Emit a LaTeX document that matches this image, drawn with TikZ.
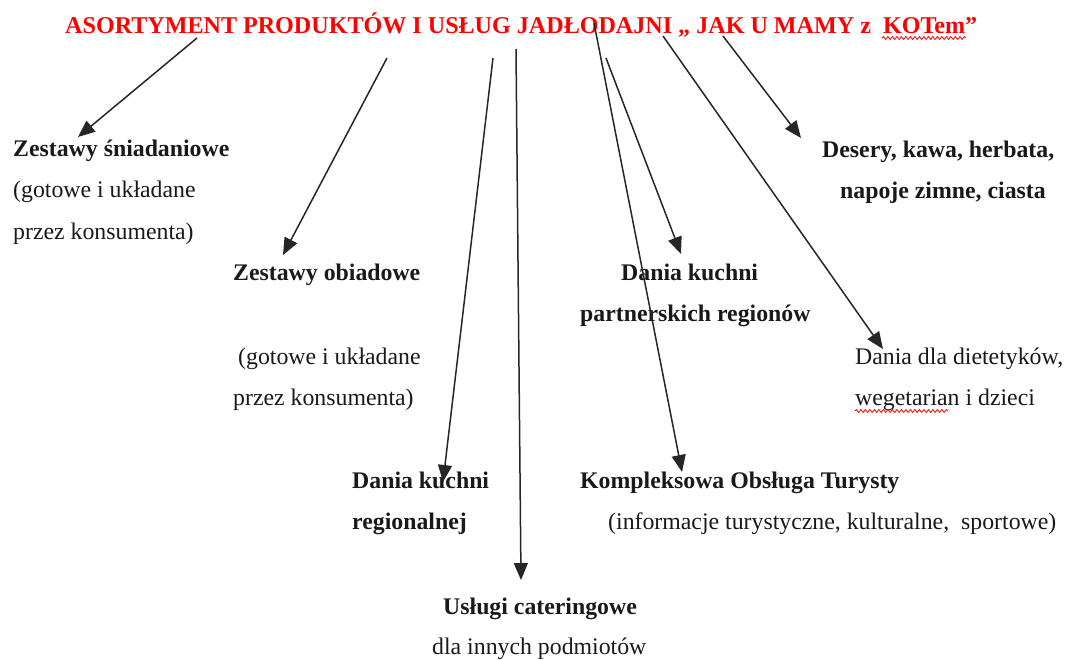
\documentclass[tikz,border=0pt]{standalone}
\usepackage{fontspec}
\setmainfont{Liberation Serif}
\usetikzlibrary{arrows.meta,decorations.pathmorphing}
\tikzset{
  txt/.style={inner sep=0pt, anchor=base west, font=\fontsize{23.8}{28}\selectfont, text=black!90},
  bt/.style={txt, font=\fontsize{23.8}{28}\selectfont\bfseries},
  ttl/.style={inner sep=0pt, anchor=base west, font=\fontsize{24.1}{28}\selectfont\bfseries, text=red},
  arr/.style={line width=1.5pt, draw=black!85, -{Triangle[length=17pt,width=14pt]}},
  wavy/.style={draw=red, line width=0.8pt, decorate, decoration={snake, amplitude=1.5pt, segment length=4.5pt}}
}
\begin{document}
\begin{tikzpicture}[x=1pt,y=-1pt]
\useasboundingbox (0,0) rectangle (1065,659);
% title
\node[ttl] (title) at (65,33) {ASORTYMENT PRODUKTÓW I USŁUG JADŁODAJNI „ JAK U MAMY z\ \ KOTem”};
\draw[wavy] (882,38) -- (966,38);
% texts
\node[bt]  (sn1) at (13,156) {Zestawy śniadaniowe};
\node[txt] (sn2) at (13,197) {(gotowe i układane};
\node[txt] (sn3) at (13,239) {przez konsumenta)};
\node[bt]  (ob1) at (233,280) {Zestawy obiadowe};
\node[txt] (ob2) at (238,364) {(gotowe i układane};
\node[txt] (ob3) at (233,405) {przez konsumenta)};
\node[bt]  (re1) at (352,488) {Dania kuchni};
\node[bt]  (re2) at (352,529) {regionalnej};
\node[bt]  (ca1) at (443,614) {Usługi cateringowe};
\node[txt] (ca2) at (432,654) {dla innych podmiotów};
\node[bt]  (tu1) at (580,488) {Kompleksowa Obsługa Turysty};
\node[txt] (tu2) at (608,529) {(informacje turystyczne, kulturalne,\ \ sportowe)};
\node[bt]  (pa1) at (621,280) {Dania kuchni};
\node[bt]  (pa2) at (580,321) {partnerskich regionów};
\node[txt] (di1) at (855,364) {Dania dla dietetyków,};
\node[txt] (di2) at (855,405) {wegetarian i dzieci};
\draw[wavy] (855,411) -- (948,411);
\node[bt]  (de1) at (822,157) {Desery, kawa, herbata,};
\node[bt]  (de2) at (840,198) {napoje zimne, ciasta};
% arrow start and tip coordinates
\coordinate (s1) at (197,38);  \coordinate (e1) at (78,137);
\coordinate (s2) at (387,58);  \coordinate (e2) at (283,255);
\coordinate (s3) at (493,58);  \coordinate (e3) at (443,482);
\coordinate (s4) at (516,49);  \coordinate (e4) at (521,580);
\coordinate (s5) at (594,23);  \coordinate (e5) at (682,472);
\coordinate (s6) at (606,58);  \coordinate (e6) at (681,254);
\coordinate (s7) at (663,36);  \coordinate (e7) at (883,349);
\coordinate (s8) at (723,36);  \coordinate (e8) at (801,138);
\foreach \i in {1,...,8} {\draw[arr] (s\i) -- (e\i);}
\end{tikzpicture}
\end{document}
